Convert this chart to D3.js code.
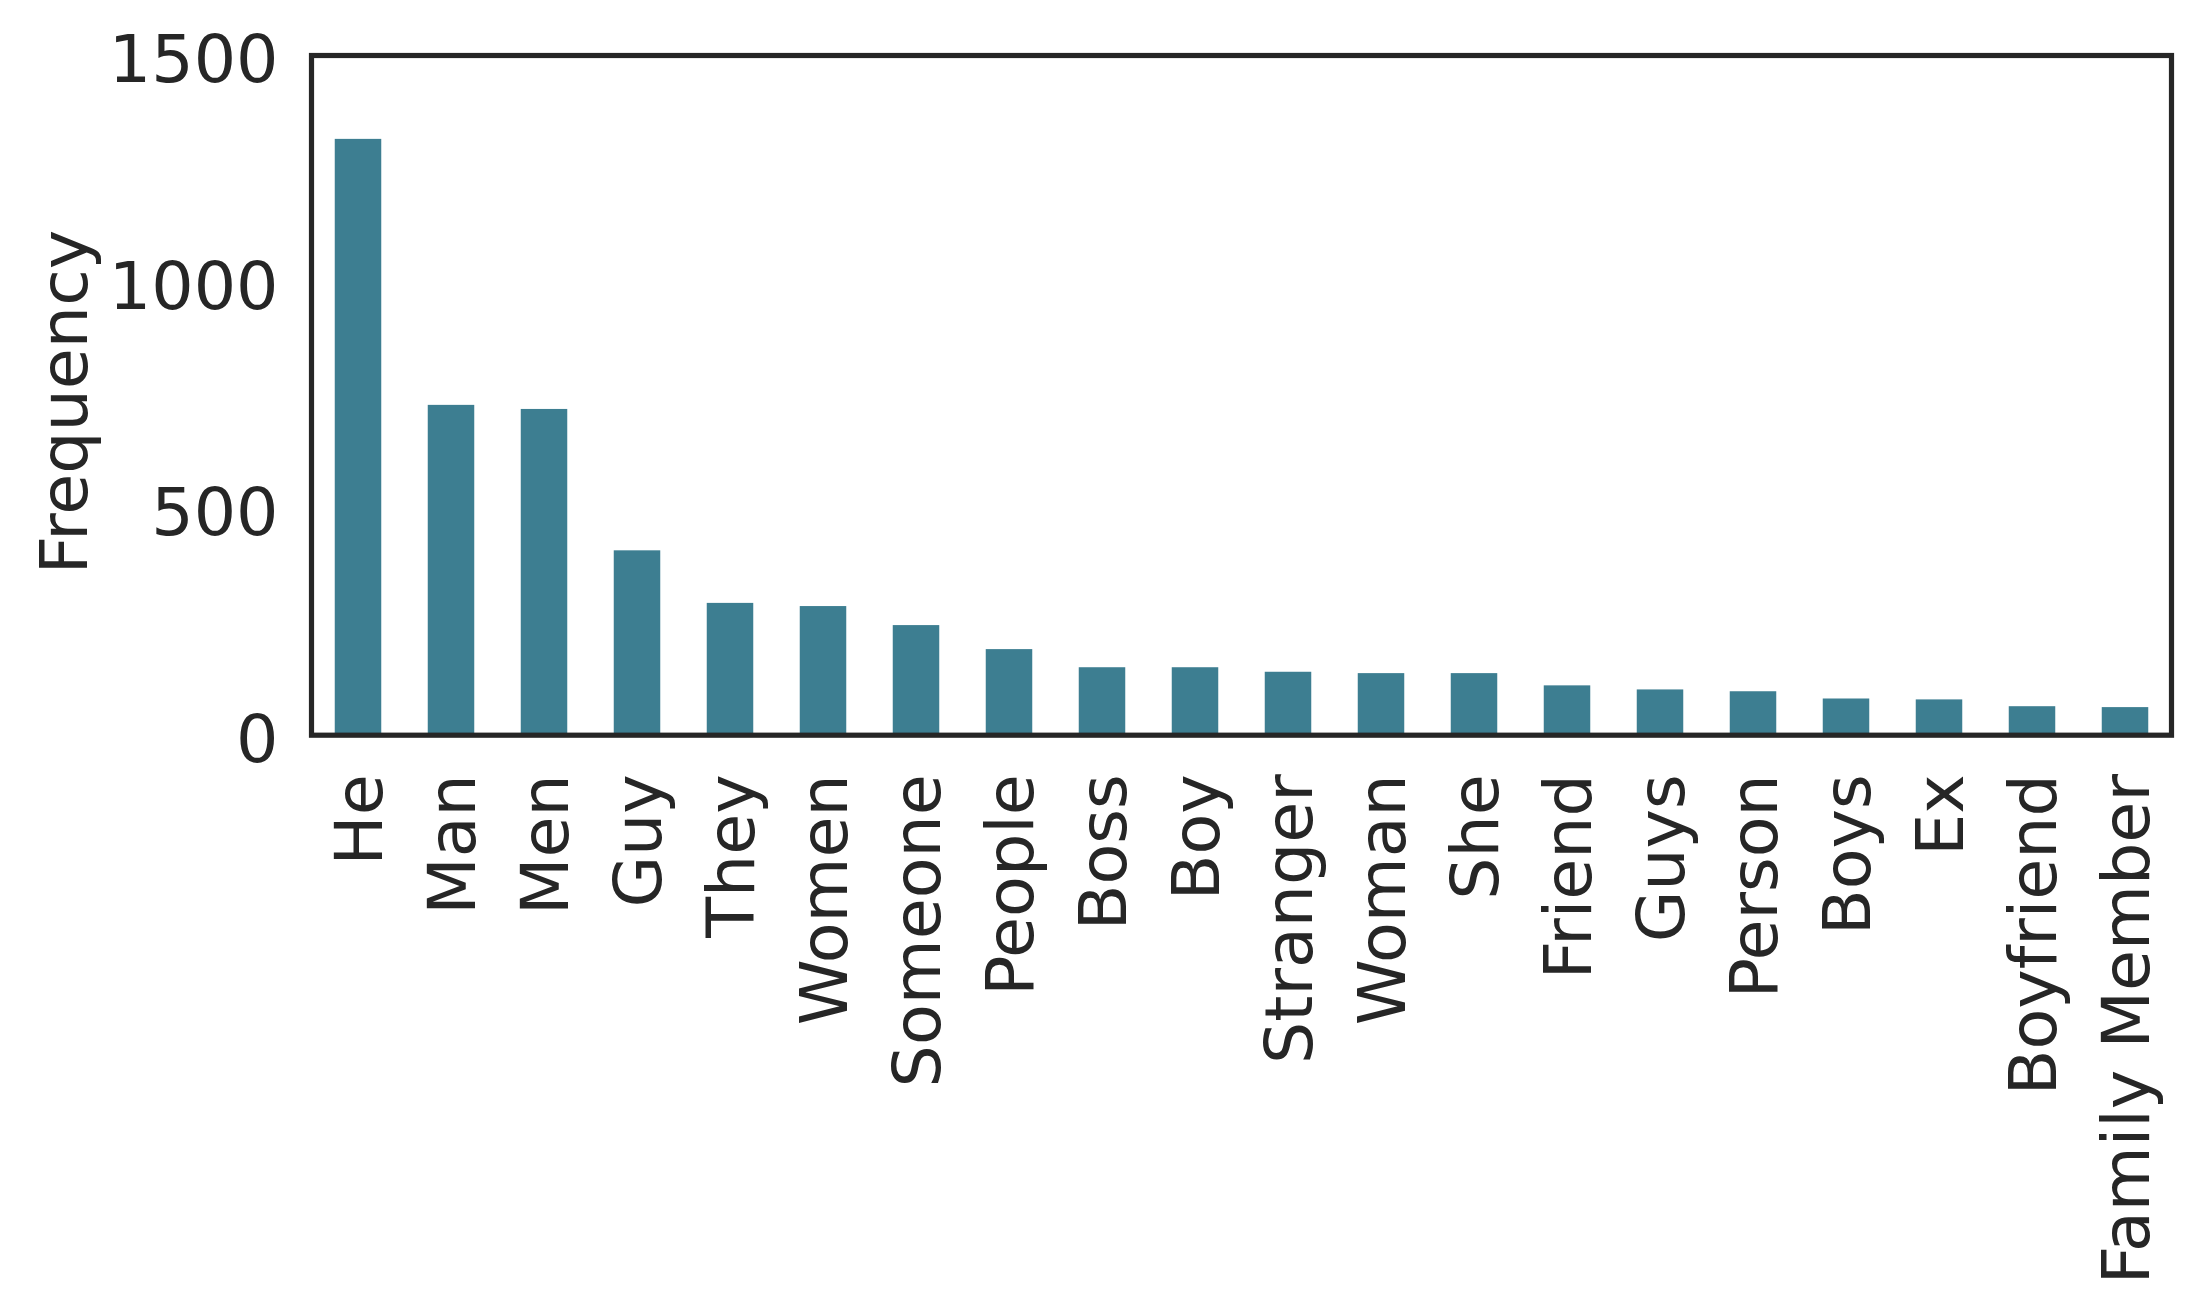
<!DOCTYPE html>
<html>
<head>
<meta charset="utf-8">
<script src="https://cdn.jsdelivr.net/npm/d3@7"></script>
<style>
html,body{margin:0;padding:0;background:#fff;}
svg{display:block;}
text{font-family:"DejaVu Sans",sans-serif;fill:#262626;}
</style>
</head>
<body>
<svg id="chart" width="2201" height="1309"></svg>
<script>
const categories = ["He","Man","Men","Guy","They","Women","Someone","People","Boss","Boy","Stranger","Woman","She","Friend","Guys","Person","Boys","Ex","Boyfriend","Family Member"];
const frequencies = [1316,729,720,408,292,285,243,190,150,150,140,137,137,110,101,97,81,79,64,62];
const yTicks = [0,500,1000,1500];
const yLabel = "Frequency";

(function () {
const W = 2201, H = 1309;
const pL = 311.5, pR = 2171.5, pT = 55.5, pB = 735.2;
const fontSize = 66.7;
const ink = "#262626";
const barColor = "#3d7e91";

const svg = d3.select("#chart");
svg.append("rect").attr("width", W).attr("height", H).attr("fill", "#fff");

const x = d3.scaleBand().domain(categories).range([pL, pR]).paddingInner(0.5).paddingOuter(0.25);
const y = d3.scaleLinear().domain([0, 1500]).range([pB, pT]);

svg.append("g").selectAll("rect").data(categories).join("rect")
  .attr("x", d => x(d))
  .attr("width", x.bandwidth())
  .attr("y", (d, i) => y(frequencies[i]))
  .attr("height", (d, i) => y(0) - y(frequencies[i]))
  .attr("fill", barColor);

// y axis
const yAxis = svg.append("g").attr("transform", `translate(${pL},0)`)
  .call(d3.axisLeft(y).tickValues(yTicks).tickSize(0).tickPadding(33).tickFormat(d3.format("d")));
yAxis.select(".domain").remove();
yAxis.selectAll("text").attr("font-size", fontSize).attr("dy", "0.39em")
  .style("font-family", '"DejaVu Sans",sans-serif').attr("fill", ink);

// x axis
const xAxis = svg.append("g").attr("transform", `translate(0,${pB})`)
  .call(d3.axisBottom(x).tickSize(0));
xAxis.select(".domain").remove();
xAxis.selectAll(".tick text")
  .attr("font-size", fontSize)
  .attr("text-anchor", "end")
  .attr("transform", "rotate(-90)")
  .attr("x", -39)
  .attr("y", 0)
  .attr("dy", "0.355em")
  .style("font-family", '"DejaVu Sans",sans-serif')
  .attr("fill", ink);

// y label
svg.append("text")
  .attr("transform", `translate(87.3,402) rotate(-90)`)
  .attr("text-anchor", "middle")
  .attr("font-size", fontSize)
  .text(yLabel);

// frame
svg.append("rect")
  .attr("x", pL).attr("y", pT)
  .attr("width", pR - pL).attr("height", pB - pT)
  .attr("fill", "none").attr("stroke", ink).attr("stroke-width", 5.2);
})();
</script>
</body>
</html>
